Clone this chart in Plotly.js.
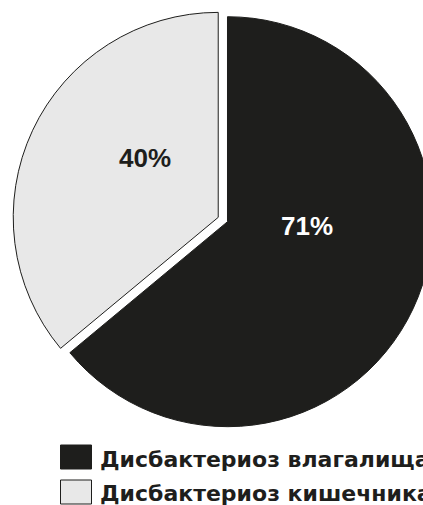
<!DOCTYPE html>
<html>
<head>
<meta charset="utf-8">
<script src="https://cdn.plot.ly/plotly-3.0.1.min.js"></script>
<style>
html, body { margin: 0; padding: 0; overflow: hidden; background: #ffffff; }
#chart { width: 456px; height: 505px; }
</style>
</head>
<body>
<div id="chart"></div>
<script>
// ---- data ----
var categories = ['Дисбактериоз влагалища', 'Дисбактериоз кишечника'];
var values = [71, 40];
var textLabels = values.map(function (v) { return v + '%'; });

// ---- styles ----
var sliceColors = ['#1e1e1c', '#e8e8e8'];
var textColors = ['#ffffff', '#1e1e1c'];
var pulls = [0, 0.05];

var W = 456, H = 505;
function px(x) { return x / W; }
function py(y) { return 1 - y / H; }

// label positions (px) for the percentage texts
var labelPos = [[307, 226.5], [144.5, 157.5]];
// legend rows (px)
var legendRows = [{ top: 445, bottom: 469, mid: 459 }, { top: 480, bottom: 504, mid: 493 }];
var legendLeft = 60.5, legendRight = 91.5, legendTextX = 98;

var trace = {
  type: 'pie',
  labels: categories,
  values: values,
  sort: false,
  direction: 'clockwise',
  rotation: 0,
  pull: pulls,
  textinfo: 'none',
  hoverinfo: 'label+value',
  marker: { colors: sliceColors, line: { color: '#1e1e1c', width: 1 } },
  domain: { x: [0.0269, 0.9709], y: [0.1348, 0.9872] },
  showlegend: false
};

var annotations = [];
var shapes = [];
for (var i = 0; i < categories.length; i++) {
  annotations.push({
    xref: 'paper', yref: 'paper',
    x: px(labelPos[i][0]), y: py(labelPos[i][1]),
    xanchor: 'center', yanchor: 'middle',
    text: textLabels[i], showarrow: false,
    font: { family: 'Liberation Sans, Arial, sans-serif', size: 26, weight: 'bold', color: textColors[i] }
  });
  shapes.push({
    type: 'rect', xref: 'paper', yref: 'paper',
    x0: px(legendLeft), x1: px(legendRight),
    y0: py(legendRows[i].bottom), y1: py(legendRows[i].top),
    fillcolor: sliceColors[i],
    line: { color: '#1e1e1c', width: 1 }
  });
  annotations.push({
    xref: 'paper', yref: 'paper',
    x: px(legendTextX), y: py(legendRows[i].mid),
    xanchor: 'left', yanchor: 'middle',
    text: categories[i], showarrow: false,
    font: { family: 'DejaVu Sans, sans-serif', size: 22, weight: 'bold', color: '#1e1e1c' }
  });
}

var layout = {
  width: W, height: H,
  margin: { l: 0, r: 0, t: 0, b: 0 },
  paper_bgcolor: '#ffffff',
  showlegend: false,
  annotations: annotations,
  shapes: shapes
};

Plotly.newPlot('chart', [trace], layout, { displayModeBar: false, staticPlot: true });
</script>
</body>
</html>
